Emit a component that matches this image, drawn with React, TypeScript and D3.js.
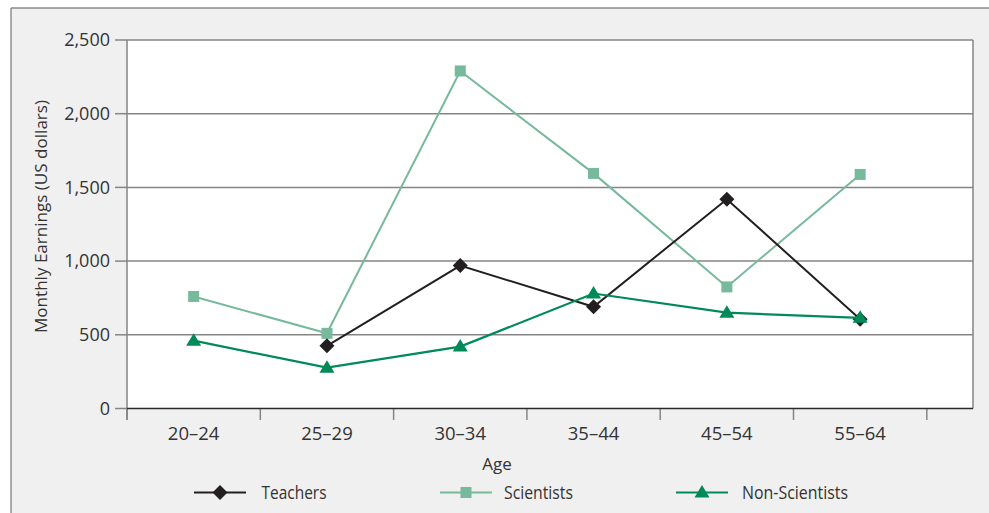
import React from "react";
import * as d3 from "d3";

const categories = ["20–24", "25–29", "30–34", "35–44", "45–54", "55–64"];
const teachers: (number | null)[] = [null, 425, 970, 690, 1420, 605];
const scientists: (number | null)[] = [760, 510, 2290, 1595, 825, 1588];
const nonScientists: (number | null)[] = [460, 277, 420, 780, 650, 615];
const yTicks = [0, 500, 1000, 1500, 2000, 2500];

const W = 989, H = 513;
const plotL = 127, plotR = 973, plotT = 40, plotB = 408.5;
const bandW = 133.3;

const FONT = "'Open Sans', 'Noto Sans', sans-serif";
const TXT = "#333333";
const GRID = "#858585";

const C_T = "#231f20";
const C_S = "#76b99b";
const C_N = "#008a58";

export default function App() {
  const x = d3.scaleBand<string>().domain(categories).range([plotL, plotL + bandW * categories.length]).padding(0);
  const y = d3.scaleLinear().domain([0, 2500]).range([plotB, plotT]);
  const cx = (c: string) => (x(c) as number) + x.bandwidth() / 2;

  const line = d3
    .line<[string, number | null]>()
    .defined((d) => d[1] != null)
    .x((d) => cx(d[0]))
    .y((d) => y(d[1] as number));

  const series = [
    { name: "Scientists", vals: scientists, color: C_S, width: 2, shape: "square" },
    { name: "Teachers", vals: teachers, color: C_T, width: 2, shape: "diamond" },
    { name: "Non-Scientists", vals: nonScientists, color: C_N, width: 2.2, shape: "triangle" },
  ];

  const marker = (shape: string, px: number, py: number, color: string, key: string) => {
    if (shape === "square") return <rect key={key} x={px - 5.5} y={py - 5.5} width={11} height={11} fill={color} />;
    if (shape === "diamond")
      return <path key={key} d={`M${px},${py - 7.5}L${px + 7.5},${py}L${px},${py + 7.5}L${px - 7.5},${py}Z`} fill={color} />;
    return <path key={key} d={`M${px},${py - 7.5}L${px + 7.5},${py + 5}L${px - 7.5},${py + 5}Z`} fill={color} />;
  };

  const xTickPositions = d3.range(categories.length + 1).map((i) => plotL + i * bandW);

  const legendItems = [
    { name: "Teachers", color: C_T, shape: "diamond", lx: 194, tx: 261.5, len: 65 },
    { name: "Scientists", color: C_S, shape: "square", lx: 440, tx: 504, len: 69 },
    { name: "Non-Scientists", color: C_N, shape: "triangle", lx: 676, tx: 742, len: 106 },
  ];
  const legendY = 492.5;

  return (
    <svg width={W} height={H} style={{ position: "absolute", left: 0, top: 0 }} fontFamily={FONT}>
      <rect x={0} y={0} width={W} height={H} fill="#ffffff" />
      <rect x={11} y={8} width={W - 11} height={H - 8} fill="#f0f0f0" />
      <line x1={11} y1={8} x2={W} y2={8} stroke="#555" strokeWidth={1.2} />
      <line x1={11} y1={8} x2={11} y2={H} stroke="#777" strokeWidth={1.2} />

      <rect x={plotL} y={plotT} width={plotR - plotL} height={plotB - plotT} fill="#ffffff" />

      {yTicks.map((t) => (
        <g key={t}>
          {t !== 0 && <line x1={plotL} x2={plotR} y1={y(t)} y2={y(t)} stroke={GRID} strokeWidth={1.5} />}
          <line x1={115} x2={plotL} y1={y(t)} y2={y(t)} stroke={GRID} strokeWidth={1.5} />
          <text x={110} y={y(t)} dy="0.35em" textAnchor="end" fontSize={18} fill={TXT}>
            {d3.format(",")(t)}
          </text>
        </g>
      ))}
      <line x1={plotR} x2={plotR} y1={plotT} y2={plotB} stroke={GRID} strokeWidth={1.5} />
      <line x1={plotL} x2={plotL} y1={plotT} y2={420} stroke={GRID} strokeWidth={1.5} />
      {xTickPositions.map((p, i) => (
        <line key={i} x1={p} x2={p} y1={plotB} y2={420} stroke={GRID} strokeWidth={1.5} />
      ))}
      <line x1={plotL} x2={plotR} y1={y(0)} y2={y(0)} stroke="#2a2a2a" strokeWidth={1.5} />

      {categories.map((c) => (
        <text key={c} x={cx(c)} y={440} textAnchor="middle" fontSize={18.5} fill={TXT}>
          {c}
        </text>
      ))}

      <text x={497} y={470} textAnchor="middle" fontSize={17} fill={TXT}>
        Age
      </text>
      <text
        transform={`translate(47,216.5) rotate(-90)`}
        textAnchor="middle"
        fontSize={17}
        fill={TXT}
        textLength={233}
        lengthAdjust="spacingAndGlyphs"
      >
        Monthly Earnings (US dollars)
      </text>

      {series.map((s) => {
        const pts = categories.map((c, i) => [c, s.vals[i]] as [string, number | null]);
        return (
          <g key={s.name}>
            <path d={line(pts) || ""} fill="none" stroke={s.color} strokeWidth={s.width} />
            {pts
              .filter((p) => p[1] != null)
              .map((p) => marker(s.shape, cx(p[0]), y(p[1] as number), s.color, s.name + p[0]))}
          </g>
        );
      })}

      {legendItems.map((l) => (
        <g key={l.name}>
          <line x1={l.lx} x2={l.lx + 52} y1={legendY} y2={legendY} stroke={l.color} strokeWidth={2.2} />
          {marker(l.shape, l.lx + 26, legendY, l.color, "lg" + l.name)}
          <text
            x={l.tx}
            y={legendY}
            dy="0.35em"
            fontSize={18}
            fill={TXT}
            textLength={l.len}
            lengthAdjust="spacingAndGlyphs"
          >
            {l.name}
          </text>
        </g>
      ))}
    </svg>
  );
}
